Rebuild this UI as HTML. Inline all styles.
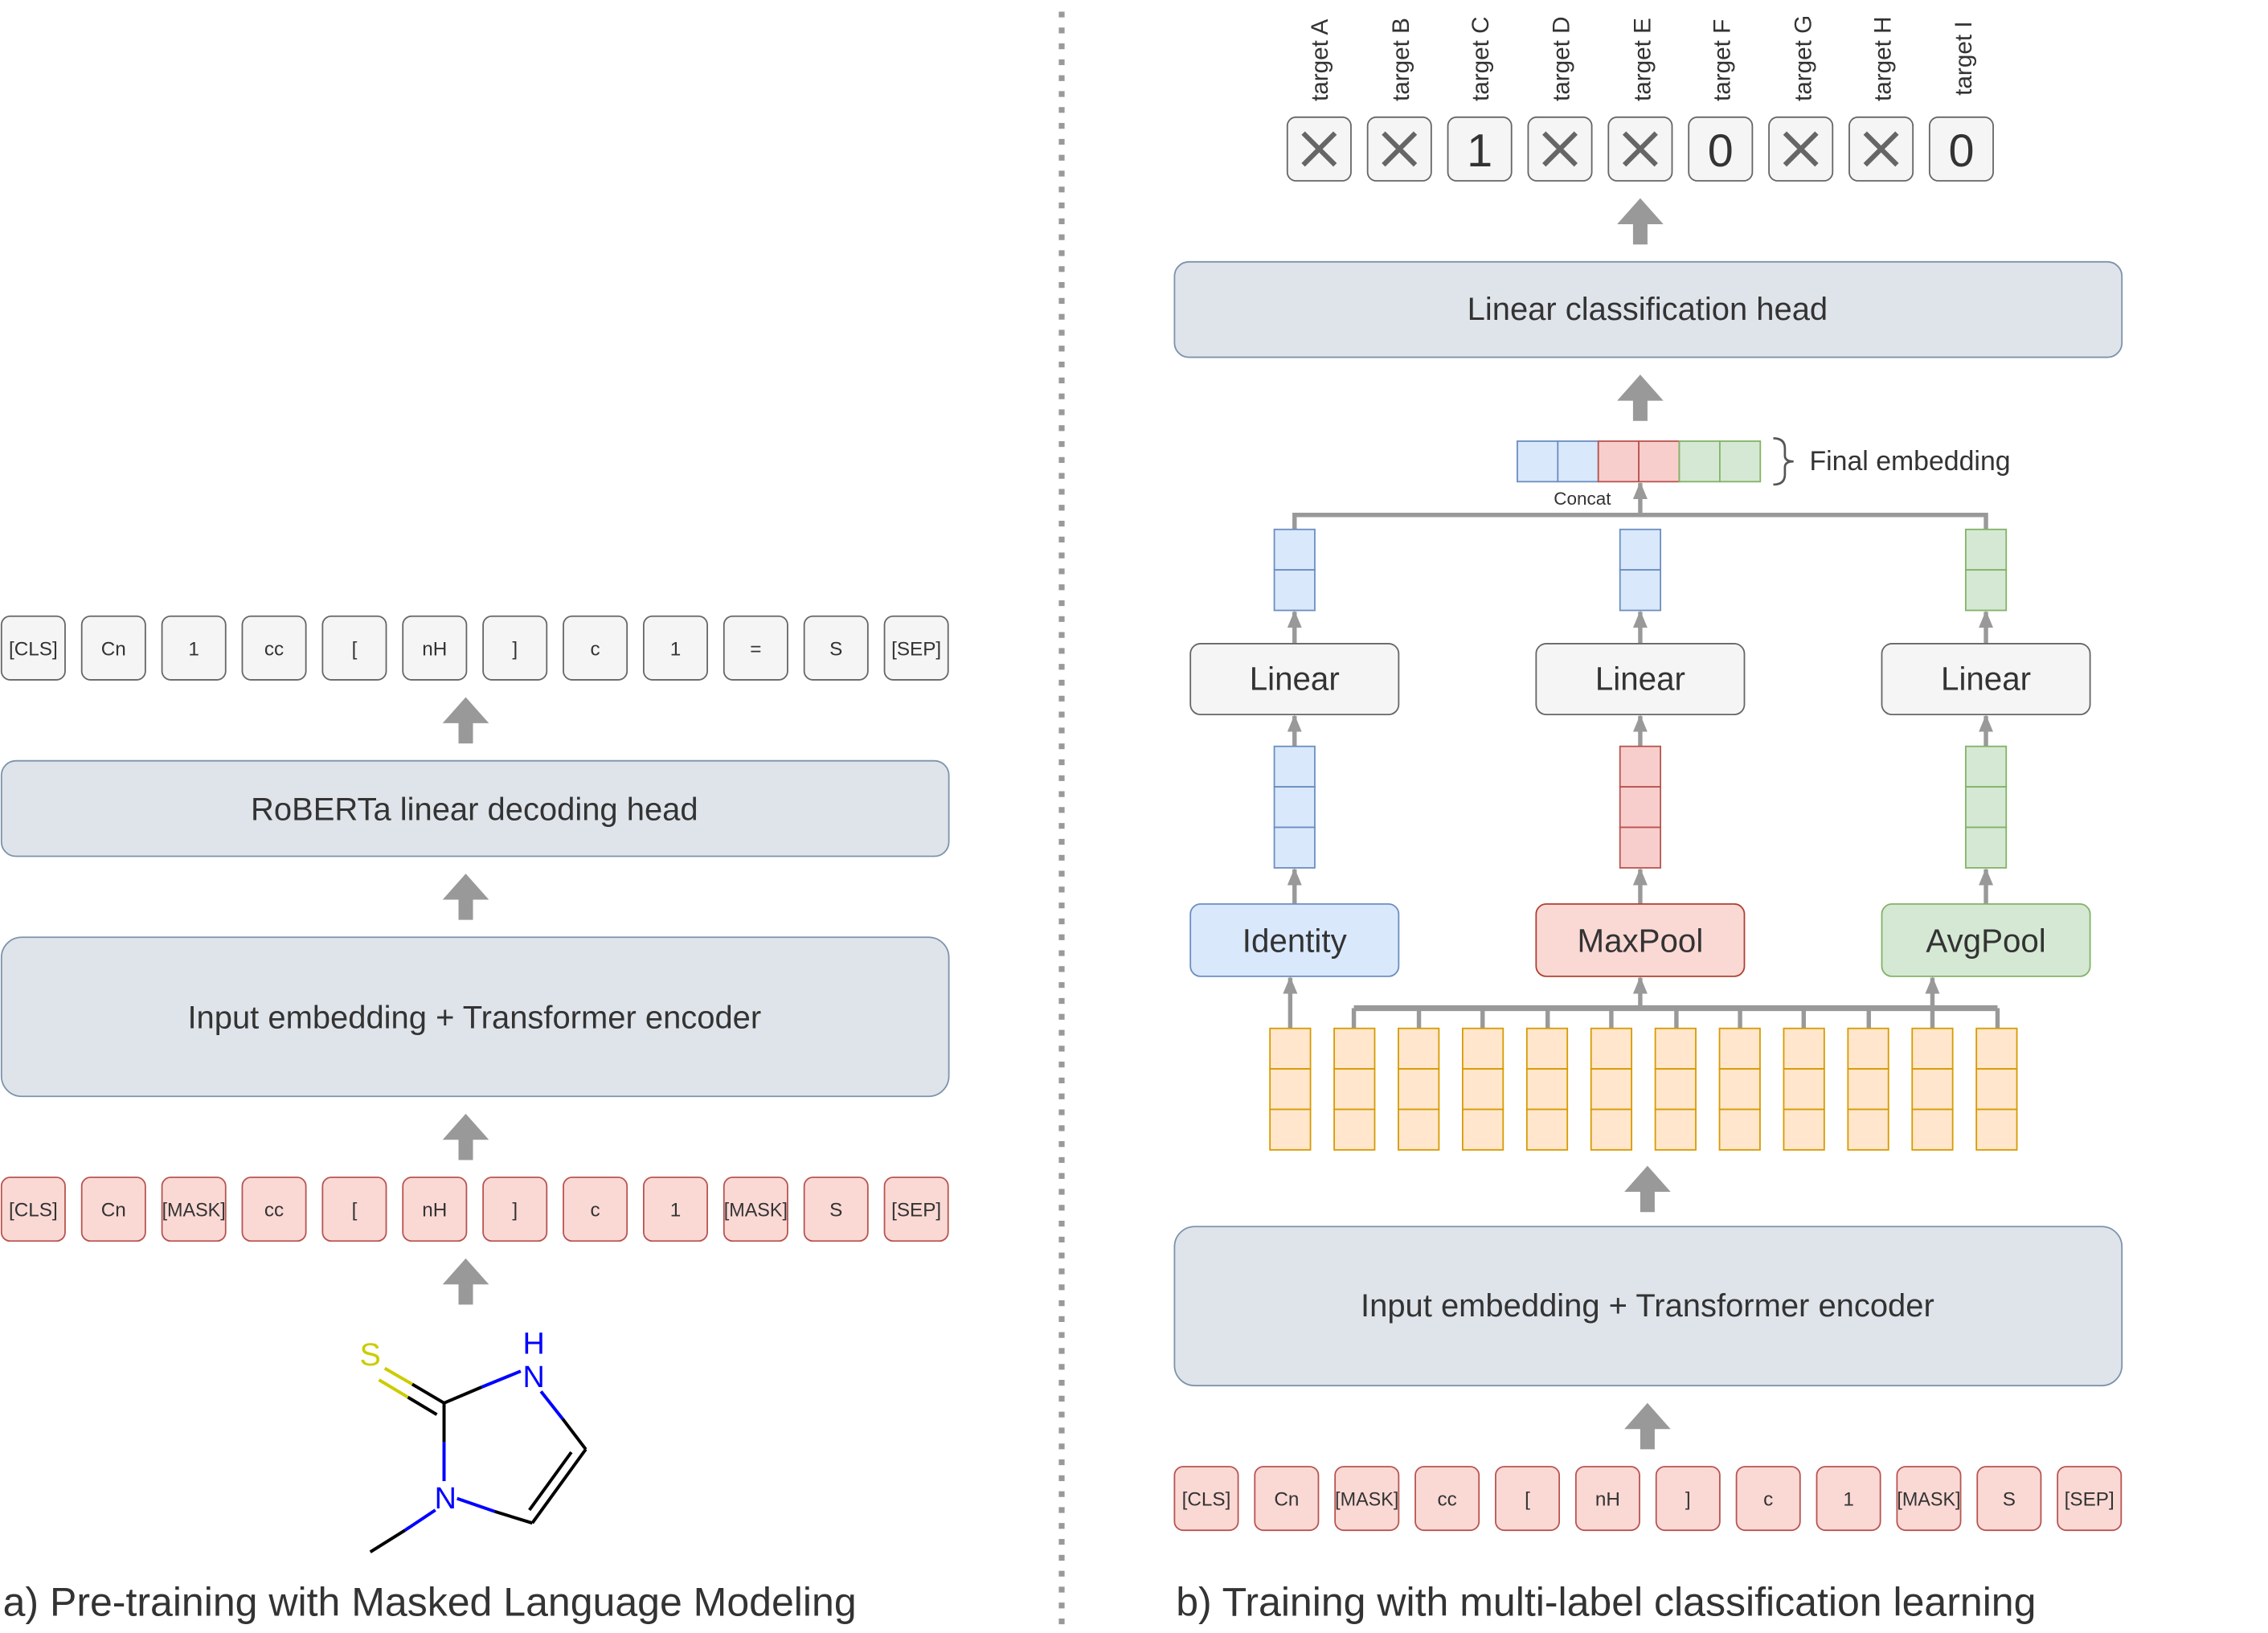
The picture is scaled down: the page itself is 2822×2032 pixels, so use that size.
<!DOCTYPE html>
<html><head><meta charset="utf-8">
<style>html,body{margin:0;padding:0;background:#fff;}svg{display:block;}
text{font-family:"Liberation Sans",Arial,sans-serif;fill:#333;}</style></head>
<body>
<svg width="2822" height="2032" viewBox="0 0 1568 1129" xmlns="http://www.w3.org/2000/svg">
<defs>
<g id="bigarrow"><polygon points="0,-16 16,2 5,2 5,16 -5,16 -5,2 -16,2" fill="#999"/></g>
<marker id="ah" markerWidth="12" markerHeight="10" refX="11" refY="5" orient="auto" markerUnits="userSpaceOnUse" viewBox="0 0 12 10"><polygon points="0,0 12,5 0,10" fill="#999"/></marker>
</defs>

<line x1="734" y1="8" x2="734" y2="1129" stroke="#999" stroke-width="4" stroke-dasharray="4,7"/>

<g font-size="13.5" text-anchor="middle">
<g stroke="#666" fill="#f5f5f5" stroke-width="1">
<rect x="1" y="426" width="44" height="44" rx="6"/><rect x="56.5" y="426" width="44" height="44" rx="6"/><rect x="112" y="426" width="44" height="44" rx="6"/><rect x="167.5" y="426" width="44" height="44" rx="6"/><rect x="223" y="426" width="44" height="44" rx="6"/><rect x="278.5" y="426" width="44" height="44" rx="6"/><rect x="334" y="426" width="44" height="44" rx="6"/><rect x="389.5" y="426" width="44" height="44" rx="6"/><rect x="445" y="426" width="44" height="44" rx="6"/><rect x="500.5" y="426" width="44" height="44" rx="6"/><rect x="556" y="426" width="44" height="44" rx="6"/><rect x="611.5" y="426" width="44" height="44" rx="6"/>
</g>
<text x="23" y="453">[CLS]</text><text x="78.5" y="453">Cn</text><text x="134" y="453">1</text><text x="189.5" y="453">cc</text><text x="245" y="453">[</text><text x="300.5" y="453">nH</text><text x="356" y="453">]</text><text x="411.5" y="453">c</text><text x="467" y="453">1</text><text x="522.5" y="453">=</text><text x="578" y="453">S</text><text x="633.5" y="453">[SEP]</text>
</g>
<use href="#bigarrow" x="322" y="498"/>
<rect x="1" y="526" width="655" height="66" rx="10" fill="#dfe4ea" stroke="#7d93ab" stroke-width="1"/>
<text x="328" y="567" font-size="22.2" text-anchor="middle">RoBERTa linear decoding head</text>
<use href="#bigarrow" x="322" y="620"/>
<rect x="1" y="648" width="655" height="110" rx="14" fill="#dfe4ea" stroke="#7d93ab" stroke-width="1"/>
<text x="328" y="711" font-size="22.2" text-anchor="middle">Input embedding + Transformer encoder</text>
<use href="#bigarrow" x="322" y="786"/>
<g font-size="13.5" text-anchor="middle">
<g stroke="#b85450" fill="#fad9d5" stroke-width="1">
<rect x="1" y="814" width="44" height="44" rx="6"/><rect x="56.5" y="814" width="44" height="44" rx="6"/><rect x="112" y="814" width="44" height="44" rx="6"/><rect x="167.5" y="814" width="44" height="44" rx="6"/><rect x="223" y="814" width="44" height="44" rx="6"/><rect x="278.5" y="814" width="44" height="44" rx="6"/><rect x="334" y="814" width="44" height="44" rx="6"/><rect x="389.5" y="814" width="44" height="44" rx="6"/><rect x="445" y="814" width="44" height="44" rx="6"/><rect x="500.5" y="814" width="44" height="44" rx="6"/><rect x="556" y="814" width="44" height="44" rx="6"/><rect x="611.5" y="814" width="44" height="44" rx="6"/>
</g>
<text x="23" y="841">[CLS]</text><text x="78.5" y="841">Cn</text><text x="134" y="841" textLength="44" lengthAdjust="spacingAndGlyphs">[MASK]</text><text x="189.5" y="841">cc</text><text x="245" y="841">[</text><text x="300.5" y="841">nH</text><text x="356" y="841">]</text><text x="411.5" y="841">c</text><text x="467" y="841">1</text><text x="522.5" y="841" textLength="44" lengthAdjust="spacingAndGlyphs">[MASK]</text><text x="578" y="841">S</text><text x="633.5" y="841">[SEP]</text>
</g>
<use href="#bigarrow" x="322" y="886"/>

<g stroke-width="2.2" fill="none">
<line x1="307" y1="970" x2="285" y2="957" stroke="#000"/><line x1="285" y1="957" x2="266" y2="946" stroke="#cc0"/>
<line x1="302" y1="978" x2="282" y2="966" stroke="#000"/><line x1="282" y1="966" x2="262" y2="954" stroke="#cc0"/>
<line x1="307" y1="970" x2="333" y2="959" stroke="#000"/><line x1="333" y1="959" x2="360" y2="948" stroke="#00f"/>
<line x1="374" y1="962" x2="389" y2="981" stroke="#00f"/><line x1="389" y1="981" x2="405" y2="1002" stroke="#000"/>
<line x1="405" y1="1002" x2="368" y2="1053" stroke="#000"/><line x1="395" y1="1004" x2="366" y2="1044" stroke="#000"/>
<line x1="368" y1="1053" x2="342" y2="1045" stroke="#000"/><line x1="342" y1="1045" x2="316" y2="1036" stroke="#00f"/>
<line x1="307" y1="1024" x2="307" y2="997" stroke="#00f"/><line x1="307" y1="997" x2="307" y2="970" stroke="#000"/>
<line x1="301" y1="1044" x2="280" y2="1058" stroke="#00f"/><line x1="280" y1="1058" x2="256" y2="1073" stroke="#000"/>
</g>
<text x="256" y="944" font-size="22" text-anchor="middle" style="fill:#cc0">S</text>
<text x="369" y="936" font-size="21" text-anchor="middle" style="fill:#00f">H</text>
<text x="369" y="959" font-size="21" text-anchor="middle" style="fill:#00f">N</text>
<text x="308" y="1043" font-size="21" text-anchor="middle" style="fill:#00f">N</text>

<text x="2" y="1117" font-size="27.8">a) Pre-training with Masked Language Modeling</text>

<g font-size="16.5">
<text transform="translate(918,70) rotate(-90)">target A</text>
<text transform="translate(974,70) rotate(-90)">target B</text>
<text transform="translate(1029,70) rotate(-90)">target C</text>
<text transform="translate(1085,70) rotate(-90)">target D</text>
<text transform="translate(1141,70) rotate(-90)">target E</text>
<text transform="translate(1196,70) rotate(-90)">target F</text>
<text transform="translate(1252,70) rotate(-90)">target G</text>
<text transform="translate(1307,70) rotate(-90)">target H</text>
<text transform="translate(1363,66) rotate(-90)">target I</text>
</g>
<g stroke="#666" fill="#f5f5f5" stroke-width="1">
<rect x="890" y="81" width="44" height="44" rx="6"/><rect x="945.5" y="81" width="44" height="44" rx="6"/><rect x="1001" y="81" width="44" height="44" rx="6"/><rect x="1056.5" y="81" width="44" height="44" rx="6"/><rect x="1112" y="81" width="44" height="44" rx="6"/><rect x="1167.5" y="81" width="44" height="44" rx="6"/><rect x="1223" y="81" width="44" height="44" rx="6"/><rect x="1278.5" y="81" width="44" height="44" rx="6"/><rect x="1334" y="81" width="44" height="44" rx="6"/>
</g>
<g stroke="#666" stroke-width="3.4">
<path d="M901,92 L923,114 M923,92 L901,114"/>
<path d="M956.5,92 L978.5,114 M978.5,92 L956.5,114"/>
<path d="M1067.5,92 L1089.5,114 M1089.5,92 L1067.5,114"/>
<path d="M1123,92 L1145,114 M1145,92 L1123,114"/>
<path d="M1234,92 L1256,114 M1256,92 L1234,114"/>
<path d="M1289.5,92 L1311.5,114 M1311.5,92 L1289.5,114"/>
</g>
<g font-size="32" text-anchor="middle" style="fill:#111">
<text x="1023" y="115">1</text><text x="1189.5" y="115">0</text><text x="1356" y="115">0</text>
</g>
<use href="#bigarrow" x="1134" y="153"/>
<rect x="812" y="181" width="655" height="66" rx="10" fill="#dfe4ea" stroke="#7d93ab" stroke-width="1"/>
<text x="1139" y="221" font-size="22.2" text-anchor="middle">Linear classification head</text>
<use href="#bigarrow" x="1134" y="275"/>

<g stroke-width="1">
<rect x="1049" y="305" width="28" height="28" fill="#dae8fc" stroke="#6c8ebf"/><rect x="1077" y="305" width="28" height="28" fill="#dae8fc" stroke="#6c8ebf"/>
<rect x="1105" y="305" width="28" height="28" fill="#f8cecc" stroke="#b85450"/><rect x="1133" y="305" width="28" height="28" fill="#f8cecc" stroke="#b85450"/>
<rect x="1161" y="305" width="28" height="28" fill="#d5e8d4" stroke="#82b366"/><rect x="1189" y="305" width="28" height="28" fill="#d5e8d4" stroke="#82b366"/>
</g>
<path d="M1226,303 Q1234,303 1234,310 L1234,315 Q1234,319 1240,319 Q1234,319 1234,323 L1234,328 Q1234,335 1226,335" fill="none" stroke="#555" stroke-width="1.5"/>
<text x="1251" y="325" font-size="18.8">Final embedding</text>
<text x="1094" y="349" font-size="12.5" text-anchor="middle">Concat</text>

<g stroke="#999" stroke-width="3" fill="none">
<polyline points="895,366 895,356 1373,356 1373,366"/>
<line x1="1134" y1="356" x2="1134" y2="334" marker-end="url(#ah)"/>
<line x1="895" y1="445" x2="895" y2="423" marker-end="url(#ah)"/>
<line x1="1134" y1="445" x2="1134" y2="423" marker-end="url(#ah)"/>
<line x1="1373" y1="445" x2="1373" y2="423" marker-end="url(#ah)"/>
<line x1="895" y1="516" x2="895" y2="495" marker-end="url(#ah)"/>
<line x1="1134" y1="516" x2="1134" y2="495" marker-end="url(#ah)"/>
<line x1="1373" y1="516" x2="1373" y2="495" marker-end="url(#ah)"/>
<line x1="895" y1="625" x2="895" y2="601" marker-end="url(#ah)"/>
<line x1="1134" y1="625" x2="1134" y2="601" marker-end="url(#ah)"/>
<line x1="1373" y1="625" x2="1373" y2="601" marker-end="url(#ah)"/>
</g>

<g stroke-width="1">
<rect x="881" y="366" width="28" height="28" fill="#dae8fc" stroke="#6c8ebf"/><rect x="881" y="394" width="28" height="28" fill="#dae8fc" stroke="#6c8ebf"/>
<rect x="1120" y="366" width="28" height="28" fill="#dae8fc" stroke="#6c8ebf"/><rect x="1120" y="394" width="28" height="28" fill="#dae8fc" stroke="#6c8ebf"/>
<rect x="1359" y="366" width="28" height="28" fill="#d5e8d4" stroke="#82b366"/><rect x="1359" y="394" width="28" height="28" fill="#d5e8d4" stroke="#82b366"/>
<rect x="881" y="516" width="28" height="28" fill="#dae8fc" stroke="#6c8ebf"/><rect x="881" y="544" width="28" height="28" fill="#dae8fc" stroke="#6c8ebf"/><rect x="881" y="572" width="28" height="28" fill="#dae8fc" stroke="#6c8ebf"/>
<rect x="1120" y="516" width="28" height="28" fill="#f8cecc" stroke="#b85450"/><rect x="1120" y="544" width="28" height="28" fill="#f8cecc" stroke="#b85450"/><rect x="1120" y="572" width="28" height="28" fill="#f8cecc" stroke="#b85450"/>
<rect x="1359" y="516" width="28" height="28" fill="#d5e8d4" stroke="#82b366"/><rect x="1359" y="544" width="28" height="28" fill="#d5e8d4" stroke="#82b366"/><rect x="1359" y="572" width="28" height="28" fill="#d5e8d4" stroke="#82b366"/>
</g>

<g stroke="#666" fill="#f5f5f5" stroke-width="1">
<rect x="823" y="445" width="144" height="49" rx="7"/><rect x="1062" y="445" width="144" height="49" rx="7"/><rect x="1301" y="445" width="144" height="49" rx="7"/>
</g>
<g font-size="22.4" text-anchor="middle">
<text x="895" y="477">Linear</text><text x="1134" y="477">Linear</text><text x="1373" y="477">Linear</text>
</g>

<rect x="823" y="625" width="144" height="50" rx="7" fill="#dae8fc" stroke="#6c8ebf"/>
<rect x="1062" y="625" width="144" height="50" rx="7" fill="#fad9d5" stroke="#ae4132"/>
<rect x="1301" y="625" width="144" height="50" rx="7" fill="#d5e8d4" stroke="#82b366"/>
<g font-size="22.4" text-anchor="middle">
<text x="895" y="658">Identity</text><text x="1134" y="658">MaxPool</text><text x="1373" y="658">AvgPool</text>
</g>

<g stroke="#999" stroke-width="3" fill="none">
<line x1="892" y1="711" x2="892" y2="676" marker-end="url(#ah)"/>
<line x1="936" y1="697" x2="1381" y2="697" stroke-width="4"/>
<line x1="936" y1="711" x2="936" y2="697"/><line x1="981" y1="711" x2="981" y2="697"/><line x1="1025" y1="711" x2="1025" y2="697"/><line x1="1070" y1="711" x2="1070" y2="697"/><line x1="1114" y1="711" x2="1114" y2="697"/><line x1="1159" y1="711" x2="1159" y2="697"/><line x1="1203" y1="711" x2="1203" y2="697"/><line x1="1247" y1="711" x2="1247" y2="697"/><line x1="1292" y1="711" x2="1292" y2="697"/><line x1="1381" y1="711" x2="1381" y2="697"/>
<line x1="1134" y1="697" x2="1134" y2="676" marker-end="url(#ah)"/>
<line x1="1336" y1="711" x2="1336" y2="676" marker-end="url(#ah)"/>
</g>
<g fill="#ffe6cc" stroke="#d79b00" stroke-width="1">
<g id="oc"><rect x="878" y="711" width="28" height="28"/><rect x="878" y="739" width="28" height="28"/><rect x="878" y="767" width="28" height="28"/></g>
<use href="#oc" x="44.4"/><use href="#oc" x="88.8"/><use href="#oc" x="133.2"/><use href="#oc" x="177.6"/><use href="#oc" x="222"/><use href="#oc" x="266.4"/><use href="#oc" x="310.8"/><use href="#oc" x="355.2"/><use href="#oc" x="399.6"/><use href="#oc" x="444"/><use href="#oc" x="488.4"/>
</g>

<use href="#bigarrow" x="1139" y="822"/>
<rect x="812" y="848" width="655" height="110" rx="14" fill="#dfe4ea" stroke="#7d93ab" stroke-width="1"/>
<text x="1139" y="910" font-size="22.2" text-anchor="middle">Input embedding + Transformer encoder</text>
<use href="#bigarrow" x="1139" y="986"/>

<g font-size="13.5" text-anchor="middle">
<g stroke="#b85450" fill="#fad9d5" stroke-width="1">
<rect x="812" y="1014" width="44" height="44" rx="6"/><rect x="867.5" y="1014" width="44" height="44" rx="6"/><rect x="923" y="1014" width="44" height="44" rx="6"/><rect x="978.5" y="1014" width="44" height="44" rx="6"/><rect x="1034" y="1014" width="44" height="44" rx="6"/><rect x="1089.5" y="1014" width="44" height="44" rx="6"/><rect x="1145" y="1014" width="44" height="44" rx="6"/><rect x="1200.5" y="1014" width="44" height="44" rx="6"/><rect x="1256" y="1014" width="44" height="44" rx="6"/><rect x="1311.5" y="1014" width="44" height="44" rx="6"/><rect x="1367" y="1014" width="44" height="44" rx="6"/><rect x="1422.5" y="1014" width="44" height="44" rx="6"/>
</g>
<text x="834" y="1041">[CLS]</text><text x="889.5" y="1041">Cn</text><text x="945" y="1041" textLength="44" lengthAdjust="spacingAndGlyphs">[MASK]</text><text x="1000.5" y="1041">cc</text><text x="1056" y="1041">[</text><text x="1111.5" y="1041">nH</text><text x="1167" y="1041">]</text><text x="1222.5" y="1041">c</text><text x="1278" y="1041">1</text><text x="1333.5" y="1041" textLength="44" lengthAdjust="spacingAndGlyphs">[MASK]</text><text x="1389" y="1041">S</text><text x="1444.5" y="1041">[SEP]</text>
</g>

<text x="813" y="1117" font-size="27.8">b) Training with multi-label classification learning</text>
</svg>
</body></html>
